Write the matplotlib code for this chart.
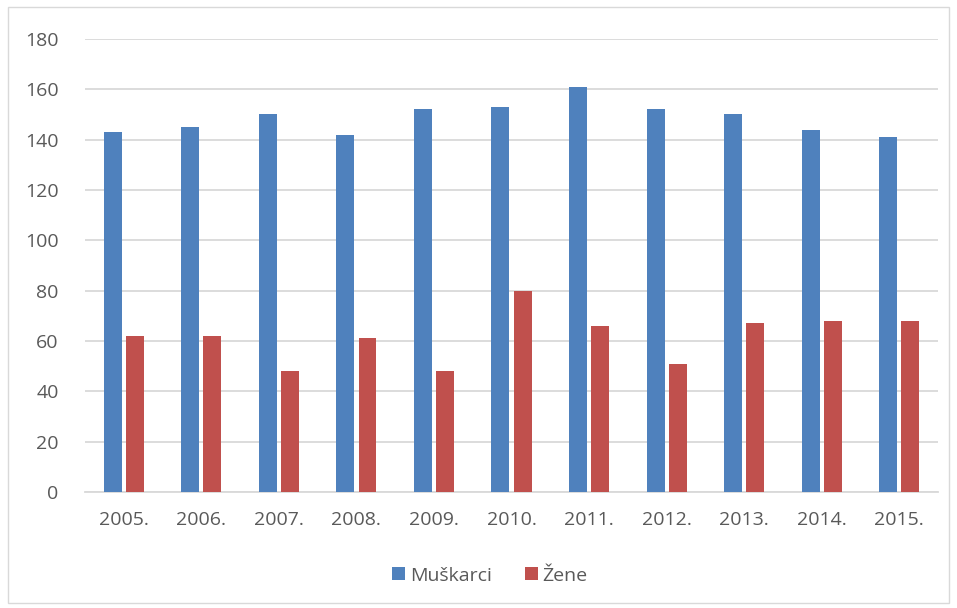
import numpy as np
import matplotlib.pyplot as plt
from matplotlib.patches import Rectangle

# data
years = ['2005.', '2006.', '2007.', '2008.', '2009.', '2010.',
         '2011.', '2012.', '2013.', '2014.', '2015.']
muskarci = [143, 145, 150, 142, 152, 153, 161, 152, 150, 144, 141]
zene = [62, 62, 48, 61, 48, 80, 66, 51, 67, 68, 68]

plt.rcParams['font.family'] = ['Open Sans', 'DejaVu Sans']

fig = plt.figure(figsize=(9.57, 6.08), dpi=100)
ax = fig.add_axes([0.0888, 0.1908, 0.8914, 0.7451])

x = np.arange(len(years))
w = 0.232
off = 0.143
ax.bar(x - off, muskarci, w, color='#4f81bd', label='Muškarci', zorder=3)
ax.bar(x + off, zene, w, color='#c0504d', label='Žene', zorder=3)

ax.set_xlim(-0.5, len(years) - 0.5)
ax.set_ylim(0, 180)
ax.set_yticks(range(0, 181, 20))
ax.set_xticks(x)
ax.set_xticklabels(years)
ax.grid(axis='y', color='#d9d9d9', linewidth=1.3, zorder=0)
for s in ['top', 'right', 'left']:
    ax.spines[s].set_visible(False)
ax.spines['bottom'].set_color('#d9d9d9')
ax.spines['bottom'].set_linewidth(1.3)
ax.tick_params(axis='both', length=0, labelsize=14, labelcolor='#595959')
ax.tick_params(axis='x', pad=14)
ax.tick_params(axis='y', pad=19)

fig.legend(loc='center', bbox_to_anchor=(0.512, 0.053), ncol=2, frameon=False,
           fontsize=14, labelcolor='#595959', handlelength=0.65, handleheight=0.65,
           handletextpad=0.25, columnspacing=1.7)

# outer chart border
fig.patches.append(Rectangle((0.008, 0.008), 0.984, 0.98, transform=fig.transFigure,
                             fill=False, edgecolor='#d9d9d9', linewidth=1))

fig.savefig('out.png', dpi=100)
